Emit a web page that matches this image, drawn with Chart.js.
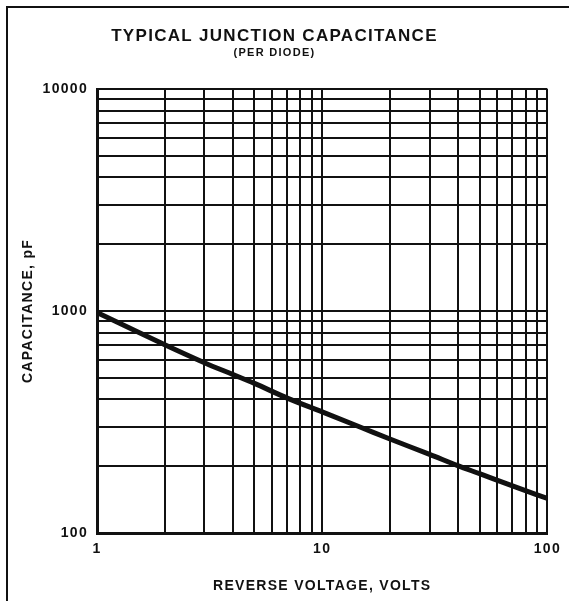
<!DOCTYPE html>
<html>
<head>
<meta charset="utf-8">
<script src="https://cdn.jsdelivr.net/npm/chart.js@4/dist/chart.umd.min.js"></script>
<style>
  body { margin: 0; background: #fff; }
  #wrap { position: relative; width: 569px; height: 601px; }
  #frame { position: absolute; left: 6px; top: 6px; right: 0; bottom: 0; border-left: 2px solid #111; border-top: 2px solid #111; pointer-events: none; }
</style>
</head>
<body>
<div id="wrap">
  <canvas id="graph" width="569" height="601"></canvas>
  <div id="frame"></div>
</div>
<script>
// 読み取った値
var voltage     = [1, 2, 3, 4, 5, 7, 10, 15, 20, 30, 40, 50, 70, 100];
var capacitance = [985, 705, 585, 518, 472, 405, 351, 298, 265, 226, 201, 185, 163, 143];
// グリッド線
var xTicks  = [1, 2, 3, 4, 5, 6, 7, 8, 9, 10, 20, 30, 40, 50, 60, 70, 80, 90, 100];
var yTicks  = [100, 200, 300, 400, 500, 600, 700, 800, 900, 1000, 2000, 3000, 4000, 5000, 6000, 7000, 8000, 9000, 10000];
var xLabels = [1, 10, 100];
var yLabels = [100, 1000, 10000];

var FONT = "'Liberation Sans', Arial, sans-serif";
Chart.defaults.font.family = FONT;
Chart.defaults.font.weight = 'bold';
Chart.defaults.color = '#111';

// 文字間隔を少し広げる
var spacing = {
    id: 'spacing',
    beforeLayout: function(chart) { chart.ctx.letterSpacing = '1.3px'; },
    beforeDraw: function(chart) { chart.ctx.letterSpacing = '1.3px'; }
};

var canvas = document.getElementById('graph');
var ctx = canvas.getContext('2d');
var myChart = new Chart(ctx, {
    type: 'line',
    data: {
        datasets: [{
            data: voltage.map(function(v, i) { return { x: v, y: capacitance[i] }; }),
            borderColor: '#111',
            borderWidth: 5,
            pointRadius: 0,
            cubicInterpolationMode: 'monotone',
            fill: false
        }]
    },
    plugins: [spacing],
    options: {
        responsive: false,
        animation: false,
        layout: { padding: { left: 0, right: 20, top: 0, bottom: 0 } },
        plugins: {
            legend: { display: false },
            tooltip: { enabled: false },
            title: {
                display: true,
                text: 'TYPICAL JUNCTION CAPACITANCE',
                font: { size: 17, weight: 'bold', lineHeight: 1 },
                padding: { top: 28, bottom: 0 }
            },
            subtitle: {
                display: true,
                text: '(PER DIODE)',
                font: { size: 11, weight: 'bold', lineHeight: 1 },
                padding: { top: 2, bottom: 31 }
            }
        },
        scales: {
            x: {
                type: 'logarithmic',
                min: 1,
                max: 100,
                afterBuildTicks: function(scale) {
                    scale.ticks = xTicks.map(function(v) { return { value: v }; });
                },
                afterFit: function(scale) { scale.height = 68; },
                ticks: {
                    autoSkip: false,
                    maxRotation: 0,
                    padding: 8,
                    font: { size: 14, weight: 'bold' },
                    callback: function(v) { return xLabels.indexOf(v) >= 0 ? String(v) : ''; }
                },
                grid: { color: '#111', lineWidth: 2, drawTicks: false },
                border: { color: '#111', width: 3 },
                title: {
                    display: true,
                    text: 'REVERSE VOLTAGE, VOLTS',
                    font: { size: 14, weight: 'bold' },
                    padding: { top: 0, bottom: 6 }
                }
            },
            y: {
                type: 'logarithmic',
                min: 100,
                max: 10000,
                afterBuildTicks: function(scale) {
                    scale.ticks = yTicks.map(function(v) { return { value: v }; });
                },
                afterFit: function(scale) { scale.width = 97; },
                ticks: {
                    autoSkip: false,
                    padding: 9,
                    font: { size: 14, weight: 'bold' },
                    callback: function(v) { return yLabels.indexOf(v) >= 0 ? String(v) : ''; }
                },
                grid: { color: '#111', lineWidth: 2, drawTicks: false },
                border: { color: '#111', width: 3 },
                title: {
                    display: true,
                    text: 'CAPACITANCE, pF',
                    font: { size: 14, weight: 'bold' },
                    padding: { top: 20, bottom: 0 }
                }
            }
        }
    }
});
</script>
</body>
</html>
